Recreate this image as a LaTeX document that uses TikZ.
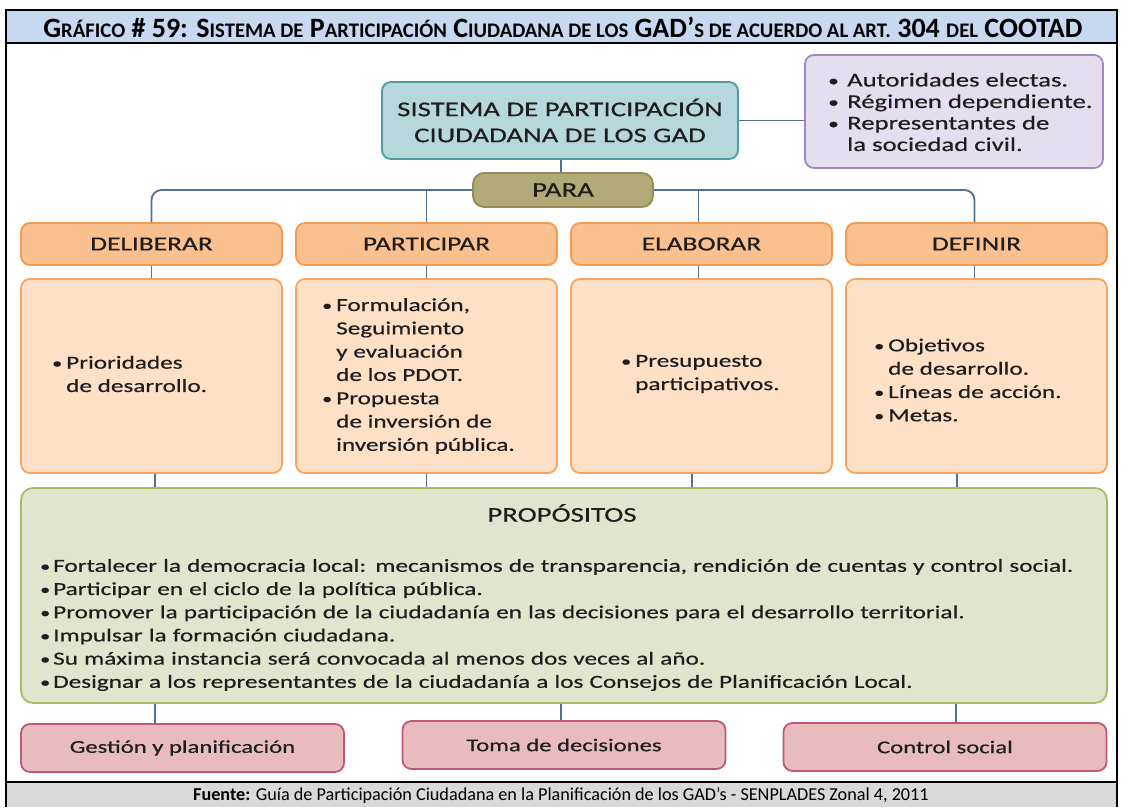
\documentclass[tikz,border=0pt]{standalone}
\usepackage{fontspec}
\setmainfont{Carlito}
\newfontfamily\dg[FakeStretch=1.37,FakeBold=0.5]{Carlito}
\definecolor{titlebg}{HTML}{C6D9F1}
\definecolor{footbg}{HTML}{D9D9D9}
\definecolor{tealF}{HTML}{B7D8DB}
\definecolor{tealD}{HTML}{4E9DA5}
\definecolor{purF}{HTML}{E5DEEE}
\definecolor{purD}{HTML}{A287C1}
\definecolor{paraF}{HTML}{B2AA76}
\definecolor{paraD}{HTML}{948B57}
\definecolor{hdrF}{HTML}{FAC08F}
\definecolor{hdrD}{HTML}{F59A4F}
\definecolor{cntF}{HTML}{FDE0C6}
\definecolor{cntD}{HTML}{F8A35E}
\definecolor{grnF}{HTML}{E0E6CD}
\definecolor{grnD}{HTML}{A3BE66}
\definecolor{pnkF}{HTML}{E8BCBC}
\definecolor{pnkD}{HTML}{C0587A}
\definecolor{connC}{HTML}{50729A}
\definecolor{txtC}{HTML}{1E1E1E}
\newcommand\smc[1]{{\fontsize{20.7}{22}\selectfont #1}}
\newcommand\bu{\makebox[14pt][l]{\raisebox{0.5pt}{\scalebox{0.8}{\textbullet}}}}
\newcommand\ii{\hspace*{14pt}}
\newcommand\bup{\makebox[19pt][l]{\raisebox{0.5pt}{\scalebox{0.8}{\textbullet}}}}
\newcommand\iip{\hspace*{19pt}}
\newcommand\bug{\makebox[13pt][l]{\raisebox{0.5pt}{\scalebox{0.8}{\textbullet}}}}
\begin{document}
\begin{tikzpicture}[x=1pt,y=-1pt,
  box/.style={draw, rounded corners=9pt, line width=1.8pt, inner sep=0pt, text=txtC},
  sysbox/.style={box, fill=tealF, draw=tealD, minimum width=356pt, minimum height=77pt, align=center, font=\dg\fontsize{21}{26}\selectfont},
  autbox/.style={box, fill=purF, draw=purD, minimum width=298pt, minimum height=113pt},
  parabox/.style={box, rounded corners=11pt, fill=paraF, draw=paraD, minimum width=180pt, minimum height=34pt, font=\dg\fontsize{21}{22}\selectfont},
  hdrbox/.style={box, fill=hdrF, draw=hdrD, minimum width=261pt, minimum height=42pt, font=\dg\fontsize{20}{22}\selectfont},
  cntbox/.style={box, fill=cntF, draw=cntD, minimum width=261pt, minimum height=194pt},
  grnbox/.style={box, rounded corners=12pt, fill=grnF, draw=grnD, minimum width=1086pt, minimum height=215pt},
  pnkbox/.style={box, fill=pnkF, draw=pnkD, minimum width=323pt, minimum height=48pt, font=\dg\fontsize{18}{20}\selectfont},
  btxt/.style={inner sep=0pt, anchor=west, align=left, text=txtC, font=\dg\fontsize{18.4}{23.3}\selectfont},
  conn/.style={draw=connC, line width=1.8pt}]
\useasboundingbox (0,0) rectangle (1122,807);
% frame
\fill[white] (0,0) rectangle (1122,807);
\draw[line width=2pt, fill=titlebg] (6,10) rectangle (1117,43);
\fill[footbg] (6,782) rectangle (1117,807);
\draw[line width=2pt] (6,43) -- (6,807);
\draw[line width=2pt] (1117,43) -- (1117,807);
\draw[line width=2pt] (6,782) -- (1117,782);
\node[inner sep=0pt, font=\bfseries\fontsize{28}{30}\selectfont, text=black] (title) at (563,27)
  {G\smc{RÁFICO} \#~59: S\smc{ISTEMA DE} P\smc{ARTICIPACIÓN} C\smc{IUDADANA DE LOS} GAD’\smc{S DE ACUERDO AL ART.} 304 \smc{DEL} COOTAD};
\node[inner sep=0pt, font=\fontsize{18.2}{20}\selectfont, text=black] (src) at (561,796)
  {\textbf{Fuente:} Guía de Participación Ciudadana en la Planificación de los GAD’s - SENPLADES Zonal 4, 2011};
% boxes
\node[sysbox] (sys) at (560,120.5) {SISTEMA DE PARTICIPACIÓN\\CIUDADANA DE LOS GAD};
\node[autbox] (aut) at (954,111.5) {};
\node[btxt, font=\dg\fontsize{19.5}{21.5}\selectfont] (autt) at (828,112)
  {\bup Autoridades electas.\\ \bup Régimen dependiente.\\ \bup Representantes de\\ \iip la sociedad civil.};
\node[parabox] (para) at (563,190) {PARA};
\node[hdrbox] (del) at (151.5,244) {DELIBERAR};
\node[hdrbox] (par) at (426.5,244) {PARTICIPAR};
\node[hdrbox] (ela) at (701.5,244) {ELABORAR};
\node[hdrbox] (def) at (976.5,244) {DEFINIR};
\node[cntbox] (delc) at (151.5,376) {};
\node[cntbox] (parc) at (426.5,376) {};
\node[cntbox] (elac) at (701.5,376) {};
\node[cntbox] (defc) at (976.5,376) {};
\node[btxt] (delt) at (52,374) {\bu Prioridades\\ \ii de desarrollo.};
\node[btxt] (part) at (322,376) {\bu Formulación,\\ \ii Seguimiento\\ \ii y evaluación\\ \ii de los PDOT.\\ \bu Propuesta\\ \ii de inversión de\\ \ii inversión pública.};
\node[btxt] (elat) at (621,374) {\bu Presupuesto\\ \ii participativos.};
\node[btxt] (deft) at (874,380) {\bu Objetivos\\ \ii de desarrollo.\\ \bu Líneas de acción.\\ \bu Metas.};
\node[grnbox] (prop) at (564,595.5) {};
\node[inner sep=0pt, text=txtC, font=\dg\fontsize{21}{22}\selectfont] (propt) at (562,513) {PROPÓSITOS};
\node[btxt, font=\dg\fontsize{18.4}{23.2}\selectfont, text width=1060pt] (propl) at (40,625)
  {\bug Fortalecer la democracia local: mecanismos de transparencia, rendición de cuentas y control social.\\
   \bug Participar en el ciclo de la política pública.\\
   \bug Promover la participación de la ciudadanía en las decisiones para el desarrollo territorial.\\
   \bug Impulsar la formación ciudadana.\\
   \bug Su máxima instancia será convocada al menos dos veces al año.\\
   \bug Designar a los representantes de la ciudadanía a los Consejos de Planificación Local.};
\node[pnkbox] (gest) at (182.5,748) {Gestión y planificación};
\node[pnkbox] (toma) at (564,745) {Toma de decisiones};
\node[pnkbox] (ctrl) at (945,747) {Control social};
% helper coordinates
\coordinate (elaTop) at ([xshift=-3pt]ela.north);
\coordinate (defTop) at ([xshift=-2pt]def.north);
\coordinate (c1) at ([xshift=3.5pt]delc.south);
\coordinate (c3) at ([xshift=-9.5pt]elac.south);
\coordinate (c4) at ([xshift=-19.5pt]defc.south);
\coordinate (g1) at ([xshift=-27.5pt]gest.north);
\coordinate (g2) at ([xshift=-3pt]toma.north);
\coordinate (g3) at ([xshift=11pt]ctrl.north);
% connectors
\draw[conn] (sys.south -| g2) -- (para.north -| g2);
\draw[conn] (sys.east) -- (sys.east -| aut.west);
\draw[conn, rounded corners=10pt] (para.west) -| (del.north);
\draw[conn, rounded corners=10pt] (para.east) -| (defTop);
\draw[conn] (par.north |- para.west) -- (par.north);
\draw[conn] (elaTop |- para.east) -- (elaTop);
\draw[conn] (del.south) -- (delc.north);
\draw[conn] (par.south) -- (parc.north);
\draw[conn] (ela.south -| elaTop) -- (elac.north -| elaTop);
\draw[conn] (def.south -| defTop) -- (defc.north -| defTop);
\draw[conn] (c1) -- (c1 |- prop.north);
\draw[conn] (parc.south) -- (parc.south |- prop.north);
\draw[conn] (c3) -- (c3 |- prop.north);
\draw[conn] (c4) -- (c4 |- prop.north);
\draw[conn] (prop.south -| g1) -- (g1);
\draw[conn] (prop.south -| g2) -- (g2);
\draw[conn] (prop.south -| g3) -- (g3);
\end{tikzpicture}
\end{document}
